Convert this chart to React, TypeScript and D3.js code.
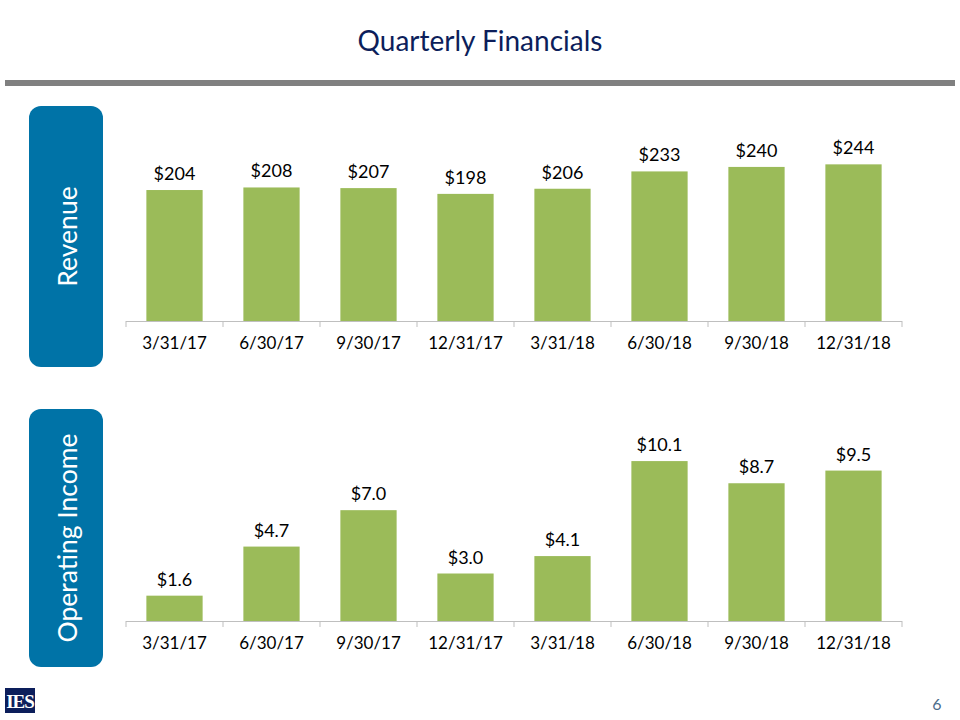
import { useEffect } from "react"
import * as d3 from "d3"

const quarters = ["3/31/17", "6/30/17", "9/30/17", "12/31/17", "3/31/18", "6/30/18", "9/30/18", "12/31/18"]
const revenue = [204, 208, 207, 198, 206, 233, 240, 244]
const operatingIncome = [1.6, 4.7, 7.0, 3.0, 4.1, 10.1, 8.7, 9.5]

const FONT = "Lato, 'Open Sans', sans-serif"
const GREEN = "#9bbb59"
const BLUE = "#0073a7"
const NAVY = "#0c1e5b"

interface PanelProps {
  values: number[]
  max: number
  baseY: number
  height: number
  format: (v: number) => string
  label: string
  boxTop: number
  boxBottom: number
}

function Panel({ values, max, baseY, height, format, label, boxTop, boxBottom }: PanelProps) {
  const x = d3.scaleBand<string>()
    .domain(quarters)
    .range([126, 902])
    .paddingInner(0.42)
    .paddingOuter(0.21)

  const y = d3.scaleLinear().domain([0, max]).range([baseY, baseY - height])

  // tick marks sit between categories, like the original
  const step = x.step()
  const [x0] = x.range()
  const ticks = d3.range(quarters.length + 1).map((i) => x0 + i * step)

  const boxMid = (boxTop + boxBottom) / 2

  return (
    <g>
      <rect x={29} y={boxTop} width={74} height={boxBottom - boxTop} rx={12} fill={BLUE} />
      <text
        transform={`translate(67,${boxMid}) rotate(-90)`}
        textAnchor="middle"
        dominantBaseline="central"
        fill="#fff"
        fontFamily={FONT}
        fontSize={26.5}
      >
        {label}
      </text>

      {values.map((v, i) => (
        <g key={quarters[i]}>
          <rect
            x={x(quarters[i])}
            y={y(v)}
            width={x.bandwidth()}
            height={baseY - y(v)}
            fill={GREEN}
          />
          <text
            x={(x(quarters[i]) as number) + x.bandwidth() / 2}
            y={y(v) - 10}
            textAnchor="middle"
            fontFamily={FONT}
            fontSize={18}
            fill="#000"
          >
            {format(v)}
          </text>
        </g>
      ))}

      <line x1={x0} x2={x0 + step * quarters.length} y1={baseY + 0.5} y2={baseY + 0.5} stroke="#bfbfbf" />
      {ticks.map((t) => (
        <line key={t} x1={t} x2={t} y1={baseY} y2={baseY + 6} stroke="#bfbfbf" />
      ))}
      {quarters.map((q) => (
        <text
          key={q}
          x={(x(q) as number) + x.bandwidth() / 2}
          y={baseY + 28}
          textAnchor="middle"
          fontFamily={FONT}
          fontSize={17}
          fill="#000"
        >
          {q}
        </text>
      ))}
    </g>
  )
}

export default function App() {
  useEffect(() => {
    document.body.style.margin = "0"
  }, [])

  return (
    <svg width={960} height={720} style={{ position: "absolute", left: 0, top: 0, background: "#fff" }}>
      <text x={480} y={51} textAnchor="middle" fontFamily={FONT} fontSize={28} fill={NAVY}>
        Quarterly Financials
      </text>
      <rect x={5} y={80} width={950} height={6} fill="#808080" />

      <Panel
        values={revenue}
        max={300}
        baseY={321}
        height={192.6}
        format={(v) => `$${d3.format("d")(v)}`}
        label="Revenue"
        boxTop={106}
        boxBottom={367}
      />
      <Panel
        values={operatingIncome}
        max={12}
        baseY={621}
        height={190}
        format={(v) => `$${d3.format(".1f")(v)}`}
        label="Operating Income"
        boxTop={409}
        boxBottom={667}
      />

      <rect x={5} y={688} width={30} height={25} fill={NAVY} />
      <text x={20} y={708} textAnchor="middle" fontFamily="'Liberation Serif', serif" fontWeight="bold" fontSize={19} fill="#fff" letterSpacing={-1}>
        IES
      </text>
      <text x={937} y={710} textAnchor="middle" fontFamily={FONT} fontSize={16} fill="#4a6b8a">
        6
      </text>
    </svg>
  )
}
